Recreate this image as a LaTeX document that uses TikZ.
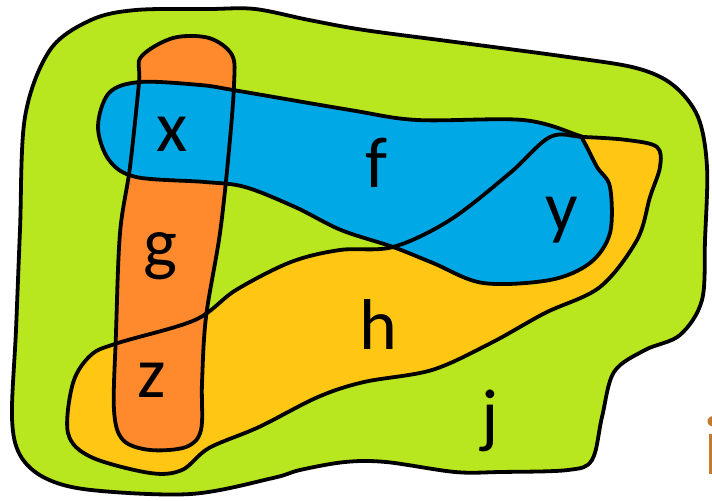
\documentclass[tikz,border=0pt]{standalone}
\usepackage{fontspec}
\setmainfont{Carlito}

\definecolor{jgreen}{HTML}{B8E61F}
\definecolor{hyellow}{HTML}{FFC714}
\definecolor{gorange}{HTML}{FF8A2E}
\definecolor{fblue}{HTML}{00A8E6}
\definecolor{ibrown}{HTML}{C27A2E}

% outlines of the regions, in pixels
\newcommand{\outlinej}{plot[smooth cycle, tension=0.55] coordinates {
  (91,20) (136,10) (210,9) (255,9) (309,20) (364,30) (455,42) (568,57)
  (636,68) (673,85) (698,117) (707,167) (705,240) (702,300) (680,335)
  (645,350) (614,372) (602,417) (592,460) (568,470) (500,472) (455,472)
  (386,462) (345,462) (300,470) (273,478) (191,494) (91,490) (45,478)
  (20,455) (12,417) (16,330) (20,230) (25,117) (50,50)}}
\newcommand{\outlineh}{plot[smooth cycle, tension=0.55] coordinates {
  (68,433) (73,383) (91,355) (118,343) (195,320) (236,290) (291,262)
  (340,250) (393,247) (450,220) (510,173) (550,137) (583,137) (627,140)
  (657,147) (660,167) (650,197) (637,240) (600,287) (545,313) (491,343)
  (432,370) (364,382) (318,397) (259,427) (209,448) (182,470) (150,473)
  (91,457)}}
\newcommand{\outlineg}{plot[smooth cycle, tension=0.55] coordinates {
  (141,57) (173,38) (209,38) (232,55) (234,85) (229,150) (220,233)
  (206,317) (202,383) (201,430) (186,447) (150,450) (123,440) (114,410)
  (116,333) (120,233) (130,167) (139,83)}}
\newcommand{\outlinef}{plot[smooth cycle, tension=0.55] coordinates {
  (109,93) (98,127) (109,160) (136,177) (205,182) (245,187) (295,207)
  (341,230) (393,247) (433,263) (483,283) (550,280) (590,263) (610,233)
  (610,187) (597,167) (583,140) (577,135) (523,120) (417,120) (350,110)
  (233,90) (200,85) (140,82)}}

\begin{document}
\begin{tikzpicture}[
    x=0.5pt, y=-0.5pt,
    every node/.style={font=\fontsize{36}{36}\selectfont, inner sep=0pt, anchor=base},
    outline/.style={draw=black, line width=1.9pt, line join=round},
]
\useasboundingbox (0,0) rectangle (712,501);

% Fills
\fill[jgreen] \outlinej;
\fill[hyellow] \outlineh;
\fill[gorange] \outlineg;
\fill[fblue] \outlinef;

% Outlines
\draw[outline] \outlinej;
\draw[outline] \outlineh;
\draw[outline] \outlineg;
\draw[outline] \outlinef;

% Labels
\node (x) at (172,152) {x};
\node (f) at (376,188) {f};
\node (y) at (562,232) {y};
\node (g) at (160,268) {g};
\node (h) at (378,350) {h};
\node (z) at (152,398) {z};
\node (j) at (490,440) {j};
\node (i) [anchor=base west, text=ibrown, font=\fontsize{42}{42}\selectfont] at (703,475) {i};

\end{tikzpicture}
\end{document}
